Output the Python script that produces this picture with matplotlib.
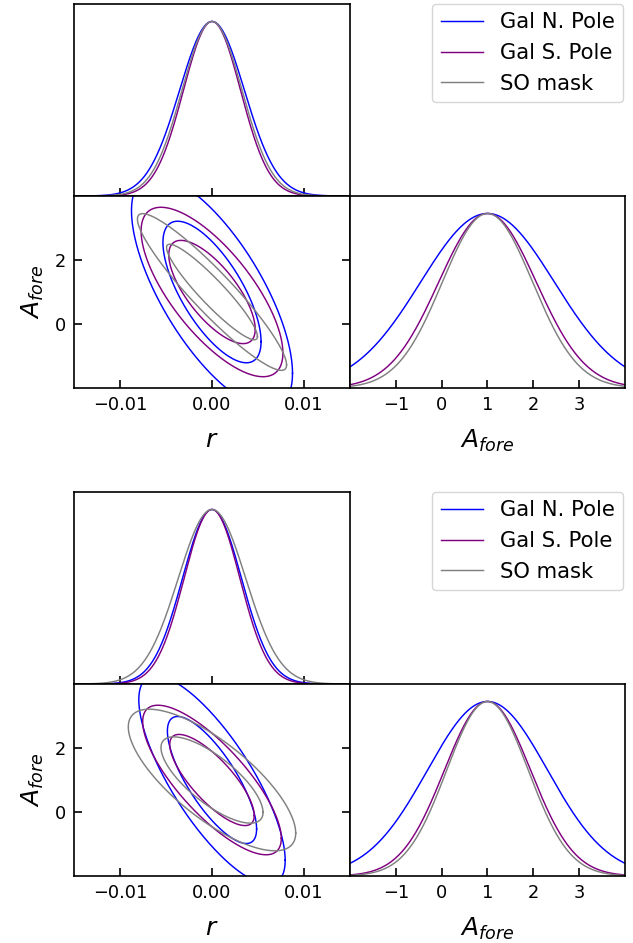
import numpy as np
import matplotlib.pyplot as plt

# fiducial values and forecast errors
labels = ['Gal N. Pole', 'Gal S. Pole', 'SO mask']
colors = ['blue', 'purple', 'gray']
r_fid = 0.0
A_fid = 1.0

# upper triangle plot
sig_r_top = [0.00352, 0.00310, 0.00326]
sig_A_top = [1.46, 1.065, 0.985]
rho_top = [-0.70, -0.72, -0.93]

# lower triangle plot
sig_r_bot = [0.00320, 0.00303, 0.00366]
sig_A_bot = [1.31, 0.94, 0.89]
rho_bot = [-0.77, -0.78, -0.75]

r_ticks = [-0.01, 0.0, 0.01]
A_xticks = [-1, 0, 1, 2, 3]
A_yticks = [0, 2]
r_lim = (-0.015, 0.015)
A_lim = (-2, 4)

# 68% and 95% 2D contour levels
levels = [0.6827, 0.9545]

TICK_FS = 12.8
LABEL_FS = 18
LEG_FS = 15.2

plt.rcParams['axes.linewidth'] = 1.2


def gauss(x, mu, s):
    return np.exp(-0.5 * ((x - mu) / s) ** 2)


def ellipse(mu, sr, sa, rho, p):
    cov = np.array([[sr**2, rho * sr * sa], [rho * sr * sa, sa**2]])
    L = np.linalg.cholesky(cov)
    k = np.sqrt(-2 * np.log(1 - p))
    t = np.linspace(0, 2 * np.pi, 500)
    pts = k * L @ np.vstack([np.cos(t), np.sin(t)])
    return pts[0] + mu[0], pts[1] + mu[1]


def corner(fig, y0, sig_r, sig_A, rho):
    L, W1, W2, H = 74 / 633, 276 / 633, 275 / 633, 192 / 943
    ax_r = fig.add_axes([L, y0 + H, W1, H])
    ax_2d = fig.add_axes([L, y0, W1, H])
    ax_A = fig.add_axes([L + W1, y0, W2, H])
    ax_leg = fig.add_axes([L + W1, y0 + H, W2, H])
    ax_leg.axis('off')

    xr = np.linspace(*r_lim, 400)
    xa = np.linspace(*A_lim, 400)
    for i in range(len(labels)):
        ax_r.plot(xr, gauss(xr, r_fid, sig_r[i]), color=colors[i], lw=1.05,
                  label=labels[i])
        ax_A.plot(xa, gauss(xa, A_fid, sig_A[i]), color=colors[i], lw=1.05)
        for p in levels:
            ex, ey = ellipse((r_fid, A_fid), sig_r[i], sig_A[i], rho[i], p)
            ax_2d.plot(ex, ey, color=colors[i], lw=1.05)

    # 1D r panel
    ax_r.set_xlim(r_lim)
    ax_r.set_ylim(0, 1.1)
    ax_r.set_xticks(r_ticks)
    ax_r.set_yticks([])
    ax_r.tick_params(direction='in', length=6, width=1.2,
                     labelbottom=False)

    # 2D panel
    ax_2d.set_xlim(r_lim)
    ax_2d.set_ylim(A_lim)
    ax_2d.set_xticks(r_ticks)
    ax_2d.set_yticks(A_yticks)
    ax_2d.tick_params(direction='in', length=6, width=1.2, right=True,
                      labelsize=TICK_FS, pad=6)
    ax_2d.set_xlabel('$r$', fontsize=LABEL_FS, labelpad=10)
    ax_2d.set_ylabel('$A_{fore}$', fontsize=LABEL_FS, labelpad=6)

    # 1D A panel
    ax_A.set_xlim(A_lim)
    ax_A.set_ylim(0, 1.1)
    ax_A.set_xticks(A_xticks)
    ax_A.set_yticks([])
    ax_A.tick_params(direction='in', length=6, width=1.2,
                     labelsize=TICK_FS, pad=6)
    ax_A.set_xlabel('$A_{fore}$', fontsize=LABEL_FS, labelpad=10)

    h, l = ax_r.get_legend_handles_labels()
    ax_leg.legend(h, l, loc='upper right', bbox_to_anchor=(0.993, 1.0),
                  borderaxespad=0, fontsize=LEG_FS)


fig = plt.figure(figsize=(6.33, 9.43), dpi=100)
corner(fig, 1 - 388 / 943, sig_r_top, sig_A_top, rho_top)
corner(fig, 1 - 876 / 943, sig_r_bot, sig_A_bot, rho_bot)
fig.savefig('out.png', dpi=100)
